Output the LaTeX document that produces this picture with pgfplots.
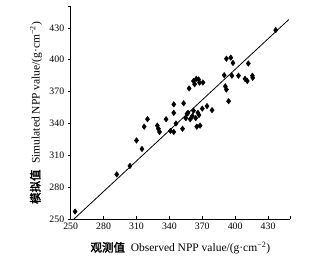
\documentclass[border=0pt]{standalone}
\usepackage{fontspec}
\setmainfont{Liberation Serif}
\newfontfamily\cjk{Noto Sans CJK SC}[AutoFakeBold=2]
\usepackage{pgfplots}
\pgfplotsset{compat=1.18}
\begin{document}
\begin{tikzpicture}
\begin{axis}[
  scale only axis,
  width=219.3pt, height=212.3pt,
  xmin=250, xmax=450, ymin=250, ymax=450,
  axis lines=left,
  axis line style={-, line width=0.8pt},
  xtick={250,280,310,340,370,400,430,450},
  xticklabels={250,280,310,340,370,400,430,},
  ytick={250,280,310,340,370,400,430,450},
  yticklabels={250,280,310,340,370,400,430,},
  xtick align=inside,
  ytick align=outside,
  major tick length=3pt,
  tick style={black, line width=0.6pt},
  /pgf/number format/assume math mode=true,
  tick label style={font=\fontsize{9.8}{11}\selectfont},
  xlabel={{\cjk\bfseries 观测值}\ \ Observed NPP value/(g·cm\textsuperscript{−2})},
  ylabel={{\cjk\bfseries 模拟值}\ \ Simulated NPP value/(g·cm\textsuperscript{−2})},
  label style={font=\fontsize{11.5}{13}\selectfont},
  xlabel style={at={(axis description cs:0.5,-0.137)}, anchor=center},
  ylabel style={at={(axis description cs:-0.158,0.5)}, anchor=center},
  clip=false,
]
\addplot[only marks, mark=diamond*, mark size=2.8pt, black] coordinates {
(254,257)
(292,292)
(304,300)
(310,324)
(315,316)
(317,337)
(320,344)
(329,338)
(330,335)
(331,332)
(337,344)
(341,333)
(344,332)
(344,358)
(344,350)
(346,340)
(352,335)
(353,359)
(355,345)
(356,349)
(357,350)
(358,373)
(359,344)
(361,347)
(362,380)
(362,352)
(363,377)
(364,345)
(364.5,382)
(365,337)
(366,350)
(366.6,381.5)
(367,348)
(367.5,378.5)
(368,338)
(370,354)
(370.6,378.6)
(374.3,356.4)
(378.9,352.6)
(390,385.5)
(391,375)
(392,372)
(392,401)
(394,361)
(396,402)
(397,385)
(398,397)
(403,385)
(409,382)
(411,380)
(412,396.5)
(415.7,385)
(416,383)
(437,428)
};
\addplot[black, line width=0.8pt] coordinates {(253,250) (449,438)};
\end{axis}
\path (current axis.south west) ++(-70.7pt,-49pt) rectangle ++(321pt,268pt);
\end{tikzpicture}
\end{document}
